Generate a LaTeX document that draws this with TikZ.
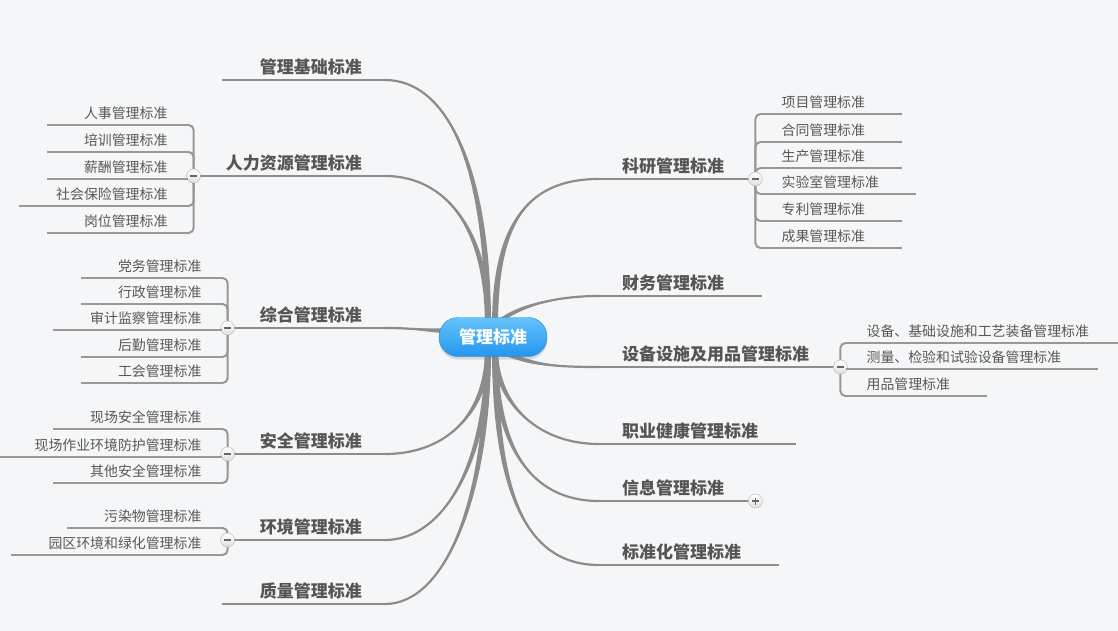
\documentclass[tikz,border=0pt]{standalone}
\usepackage{fontspec}
\setmainfont{Noto Sans CJK SC}
\usetikzlibrary{calc,shadows}
\definecolor{paper}{RGB}{245,246,248}
\definecolor{limbc}{RGB}{140,140,140}
\definecolor{twigc}{RGB}{152,152,152}
\definecolor{inkc}{RGB}{85,85,85}
\definecolor{kidc}{RGB}{88,88,88}
\definecolor{rootTop}{RGB}{100,195,250}
\definecolor{rootBot}{RGB}{35,150,238}
\definecolor{rootRim}{RGB}{40,135,215}
\pgfdeclarelayer{paper}
\pgfdeclarelayer{limbs}
\pgfsetlayers{paper,limbs,main}
\newcommand{\topicfont}{\fontsize{17}{20}\selectfont\bfseries}
\newcommand{\kidfont}{\fontsize{13.9}{16}\selectfont}
% tapered branch: root, target, root control, target control, half width at root
\newcommand{\limb}[5]{%
	\fill[limbc] (#2) .. controls +(#4) and +(#3) .. ($(#1)+(#5)$) -- ($(#1)-(#5)$) .. controls +(#3) and +(#4) .. (#2);
	\draw[limb] (#1) .. controls +(#3) and +(#4) .. (#2);}
\tikzset{
	root/.style={rounded corners=19pt, minimum width=108pt, minimum height=39pt, top color=rootTop, bottom color=rootBot, draw=rootRim, text=white, font=\topicfont, drop shadow={shadow xshift=0pt, shadow yshift=-3pt, opacity=0.25}}, % the centre pill
	topic/.style={inner xsep=23pt, inner ysep=6.5pt, text depth=0pt, text=inkc, font=\topicfont, append after command={(\tikzlastnode.south west) edge[rule] (\tikzlastnode.south east)}}, % underlined main topic
	topicL/.style={topic, anchor=south east, execute at begin node=\hspace{15pt}},
	topicR/.style={topic, anchor=south west, execute at end node=\hspace{15pt}},
	kid/.style={inner xsep=20pt, inner ysep=6.5pt, text depth=0pt, text=kidc, font=\kidfont, append after command={(\tikzlastnode.south west) edge[twig] (\tikzlastnode.south east)}}, % underlined sub topic
	kidL/.style={kid, anchor=south east, xshift=-6pt, execute at begin node=\hspace{17pt}},
	kidR/.style={kid, anchor=south west, xshift=6pt, execute at end node=\hspace{17pt}},
	limb/.style={draw=limbc, line width=2.2pt},
	rule/.style={draw=limbc, line width=2.4pt},
	twig/.style={draw=twigc, line width=2pt, rounded corners=5pt},
	knob/.style={circle, minimum size=14pt, inner sep=0pt, draw=gray!60, top color=white, bottom color=gray!25}, % fold toggle
	fold/.style={knob,
		path picture={\draw[line width=1.6pt, black!60] ([xshift=-3.5pt]path picture bounding box.center) -- ([xshift=3.5pt]path picture bounding box.center);}},
	unfold/.style={knob,
		path picture={\draw[line width=1.6pt, black!60] ([xshift=-3.5pt]path picture bounding box.center) -- ([xshift=3.5pt]path picture bounding box.center)
			([yshift=-3.5pt]path picture bounding box.center) -- ([yshift=3.5pt]path picture bounding box.center);}},
}
\begin{document}
\begin{tikzpicture}[x=1pt,y=-1pt]
	\useasboundingbox (0,0) rectangle (1118,631);
	\begin{pgfonlayer}{paper}
		\fill[paper] (0,0) rectangle (1118,631);
	\end{pgfonlayer}

	\node[root] (root) at (493,337) {管理标准};
	\coordinate (nl) at (488,326);
	\coordinate (nr) at (495,326);
	\coordinate (sl) at (488,349);
	\coordinate (sr) at (495,349);
	\coordinate (wl) at (458,331);
	\coordinate (ne) at (500,321);
	\coordinate (se) at (502,352);

	% left topics
	\node[topicL] (jichu) at (385,80) {管理基础标准};
	\node[topicL] (renli) at (385,176) {人力资源管理标准};
	\node[topicL] (zonghe) at (385,328) {综合管理标准};
	\node[topicL] (anquan) at (385,454) {安全管理标准};
	\node[topicL] (huanjing) at (385,540) {环境管理标准};
	\node[topicL] (zhiliang) at (385,604) {质量管理标准};
	% right topics
	\node[topicR] (keyan) at (599,179) {科研管理标准};
	\node[topicR] (caiwu) at (599,296) {财务管理标准};
	\node[topicR] (shebei) at (599,367) {设备设施及用品管理标准};
	\node[topicR] (zhiye) at (599,444) {职业健康管理标准};
	\node[topicR] (xinxi) at (599,501) {信息管理标准};
	\node[topicR] (biaozhun) at (599,565) {标准化管理标准};

	% toggles
	\node[fold] (renliT) at ([xshift=6pt]renli.south west) {};
	\node[fold] (zongheT) at ([xshift=6pt]zonghe.south west) {};
	\node[fold] (anquanT) at ([xshift=6pt]anquan.south west) {};
	\node[fold] (huanjingT) at ([xshift=6pt]huanjing.south west) {};
	\node[fold] (keyanT) at ([xshift=-7pt]keyan.south east) {};
	\node[fold] (shebeiT) at ([xshift=-7pt]shebei.south east) {};
	\node[unfold] (xinxiT) at ([xshift=-7pt]xinxi.south east) {};

	% sub topics
	\node[kidL] (renshi) at (renliT |- 0,125) {人事管理标准};
	\node[kidL] (peixun) at (renliT |- 0,152) {培训管理标准};
	\node[kidL] (xinchou) at (renliT |- 0,179) {薪酬管理标准};
	\node[kidL] (shebao) at (renliT |- 0,206) {社会保险管理标准};
	\node[kidL] (gangwei) at (renliT |- 0,233) {岗位管理标准};

	\node[kidL] (dangwu) at (zongheT |- 0,278) {党务管理标准};
	\node[kidL] (xingzheng) at (zongheT |- 0,304) {行政管理标准};
	\node[kidL] (shenji) at (zongheT |- 0,330) {审计监察管理标准};
	\node[kidL] (houqin) at (zongheT |- 0,357) {后勤管理标准};
	\node[kidL] (gonghui) at (zongheT |- 0,383) {工会管理标准};

	\node[kidL] (xianchang) at (anquanT |- 0,429) {现场安全管理标准};
	\node[kidL] (fanghu) at (anquanT |- 0,457) {现场作业环境防护管理标准};
	\node[kidL] (qita) at (anquanT |- 0,483) {其他安全管理标准};

	\node[kidL] (wuran) at (huanjingT |- 0,528) {污染物管理标准};
	\node[kidL] (yuanqu) at (huanjingT |- 0,555) {园区环境和绿化管理标准};

	\node[kidR] (xiangmu) at (keyanT |- 0,114) {项目管理标准};
	\node[kidR] (hetong) at (keyanT |- 0,142) {合同管理标准};
	\node[kidR] (shengchan) at (keyanT |- 0,168) {生产管理标准};
	\node[kidR] (shiyan) at (keyanT |- 0,194) {实验室管理标准};
	\node[kidR] (zhuanli) at (keyanT |- 0,221) {专利管理标准};
	\node[kidR] (chengguo) at (keyanT |- 0,248) {成果管理标准};

	\node[kidR] (zhuangbei) at (shebeiT |- 0,343) {设备、基础设施和工艺装备管理标准};
	\node[kidR] (celiang) at (shebeiT |- 0,369) {测量、检验和试验设备管理标准};
	\node[kidR] (yongpin) at (shebeiT |- 0,396) {用品管理标准};

	\begin{pgfonlayer}{limbs}
		% main branches
		\limb{nl}{jichu.south east}{0,-165}{60,0}{3,0}
		\limb{nl}{renli.south east}{0,-95}{62,0}{3,0}
		\limb{wl}{zonghe.south east}{-30,0}{30,0}{0,2.5}
		\limb{sl}{anquan.south east}{0,60}{65,0}{3,0}
		\limb{sl}{huanjing.south east}{0,110}{60,0}{3,0}
		\limb{sl}{zhiliang.south east}{0,150}{60,0}{3,0}
		\limb{nr}{keyan.south west}{0,-105}{-70,0}{3,0}
		\limb{ne}{caiwu.south west}{15,-12}{-50,0}{0,2.5}
		\limb{se}{shebei.south west}{30,12}{-50,0}{0,2.5}
		\limb{sr}{zhiye.south west}{0,50}{-65,0}{3,0}
		\limb{sr}{xinxi.south west}{0,95}{-70,0}{3,0}
		\limb{sr}{biaozhun.south west}{0,140}{-75,0}{3,0}

		% brackets to sub topics
		\draw[twig] (renliT) |- (renshi.south east);
		\draw[twig] (renliT) |- (peixun.south east);
		\draw[twig] (renliT) |- (xinchou.south east);
		\draw[twig] (renliT) |- (shebao.south east);
		\draw[twig] (renliT) |- (gangwei.south east);
		\draw[twig] (zongheT) |- (dangwu.south east);
		\draw[twig] (zongheT) |- (xingzheng.south east);
		\draw[twig] (zongheT) |- (shenji.south east);
		\draw[twig] (zongheT) |- (houqin.south east);
		\draw[twig] (zongheT) |- (gonghui.south east);
		\draw[twig] (anquanT) |- (xianchang.south east);
		\draw[twig] (anquanT) |- (fanghu.south east);
		\draw[twig] (anquanT) |- (qita.south east);
		\draw[twig] (huanjingT) |- (wuran.south east);
		\draw[twig] (huanjingT) |- (yuanqu.south east);
		\draw[twig] (keyanT) |- (xiangmu.south west);
		\draw[twig] (keyanT) |- (hetong.south west);
		\draw[twig] (keyanT) |- (shengchan.south west);
		\draw[twig] (keyanT) |- (shiyan.south west);
		\draw[twig] (keyanT) |- (zhuanli.south west);
		\draw[twig] (keyanT) |- (chengguo.south west);
		\draw[twig] (shebeiT) |- (zhuangbei.south west);
		\draw[twig] (shebeiT) |- (celiang.south west);
		\draw[twig] (shebeiT) |- (yongpin.south west);
	\end{pgfonlayer}
\end{tikzpicture}
\end{document}
